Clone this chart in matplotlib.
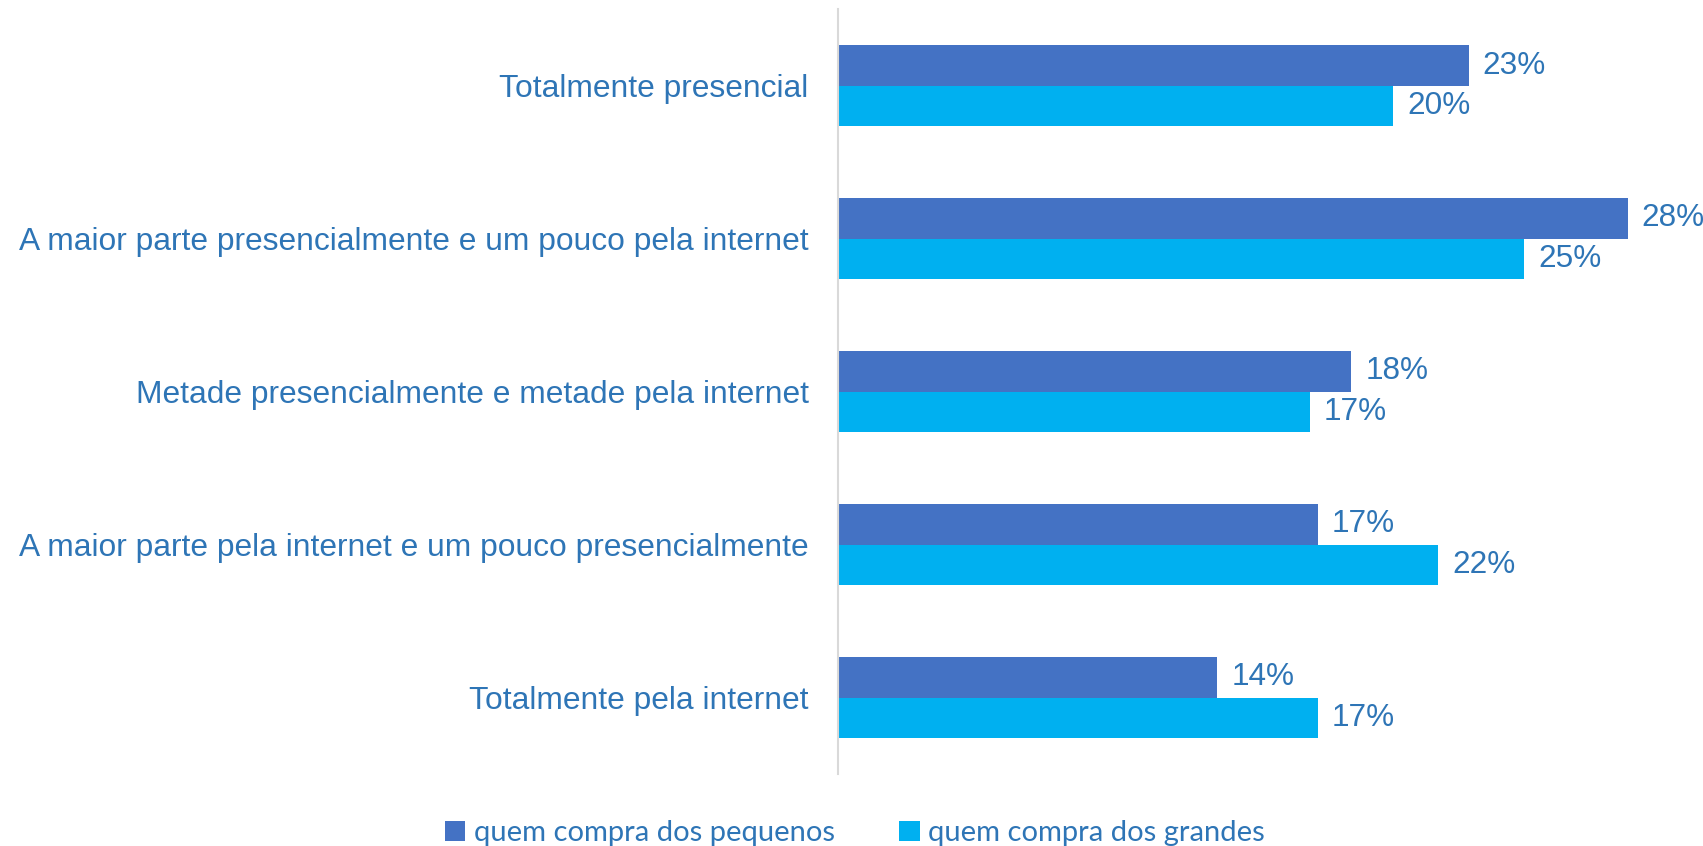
import matplotlib
matplotlib.use("Agg")
import matplotlib.pyplot as plt
import numpy as np
from matplotlib.patches import Patch

categories = [
    "Totalmente presencial",
    "A maior parte presencialmente e um pouco pela internet",
    "Metade presencialmente e metade pela internet",
    "A maior parte pela internet e um pouco presencialmente",
    "Totalmente pela internet",
]
series_names = ["quem compra dos pequenos", "quem compra dos grandes"]
pequenos = [22.6, 28.3, 18.4, 17.2, 13.6]
grandes = [19.9, 24.6, 16.9, 21.5, 17.2]
pequenos_labels = ["23%", "28%", "18%", "17%", "14%"]
grandes_labels = ["20%", "25%", "17%", "22%", "17%"]

c_peq = "#4472C4"
c_gra = "#00B0F0"
txt = "#2E75B6"

fig = plt.figure(figsize=(17.03, 8.46), dpi=100)
ax = fig.add_axes([0.492, 0.085, 0.508, 0.904])

y = np.arange(len(categories))
h = 0.265
ax.barh(y - h / 2, pequenos, height=h, color=c_peq, edgecolor="none")
ax.barh(y + h / 2, grandes, height=h, color=c_gra, edgecolor="none")

for yi, v, lab in zip(y, pequenos, pequenos_labels):
    ax.annotate(lab, (v, yi - h / 2), xytext=(14, 0), textcoords="offset pixels",
                va="center", ha="left", fontsize=22.7, color=txt, family="Liberation Sans")
for yi, v, lab in zip(y, grandes, grandes_labels):
    ax.annotate(lab, (v, yi + h / 2), xytext=(14, 0), textcoords="offset pixels",
                va="center", ha="left", fontsize=22.7, color=txt, family="Liberation Sans")

ax.set_xlim(0, 31)
ax.set_ylim(4.5, -0.5)
ax.set_yticks(y)
ax.set_yticklabels(categories, fontsize=22.9, color=txt, family="Liberation Sans")
ax.tick_params(axis="y", length=0, pad=21)
ax.set_xticks([])
for s in ["top", "right", "bottom"]:
    ax.spines[s].set_visible(False)
ax.spines["left"].set_color("#D9D9D9")
ax.spines["left"].set_linewidth(1.5)

handles = [Patch(facecolor=c_peq, edgecolor="none"), Patch(facecolor=c_gra, edgecolor="none")]
leg = fig.legend(handles, series_names, loc="center", bbox_to_anchor=(0.502, 0.015), ncol=2,
                 frameon=False, handlelength=0.7, handleheight=0.7, handletextpad=0.3,
                 columnspacing=2.2, prop={"family": "Lato", "size": 21})
for t in leg.get_texts():
    t.set_color(txt)

fig.savefig("out.png", dpi=100)
